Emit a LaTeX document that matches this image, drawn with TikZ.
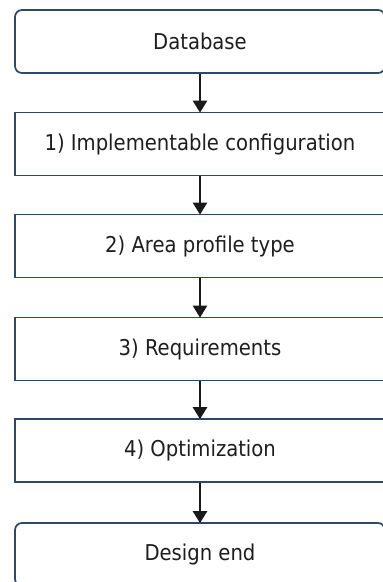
\documentclass[tikz,border=0pt]{standalone}
\usepackage{fontspec}
\setmainfont{DejaVu Sans Condensed}
\usetikzlibrary{arrows.meta}
\definecolor{boxline}{HTML}{2E4868}
\definecolor{labeltext}{HTML}{1E1E1E}
\tikzset{
  x=1pt, y=1pt,
  stepbox/.style={draw=boxline, line width=1.7pt, fill=white,
    minimum width=370pt, minimum height=63pt, inner sep=0pt,
    text=labeltext, font=\fontsize{21.8}{25}\selectfont},
  terminal/.style={stepbox, rounded corners=7pt},
  flow/.style={draw=black!90, line width=2.4pt,
    -{Triangle[width=14pt,length=12pt]}, shorten >=-1pt}
}
\begin{document}
\begin{tikzpicture}
  \useasboundingbox (0,0) rectangle (383,-582);
  \clip (0,0) rectangle (383,-582);
  \node[terminal] (db) at (200,-41.5) {Database};
  \node[stepbox]  (s1) at (200,-144)  {1) Implementable configuration};
  \node[stepbox]  (s2) at (200,-246)  {2) Area profile type};
  \node[stepbox]  (s3) at (200,-349)  {3) Requirements};
  \node[stepbox]  (s4) at (200,-450.5) {4) Optimization};
  \node[terminal] (de) at (200,-554.5) {Design end};
  \draw[flow] (db) -- (s1);
  \draw[flow] (s1) -- (s2);
  \draw[flow] (s2) -- (s3);
  \draw[flow] (s3) -- (s4);
  \draw[flow] (s4) -- (de);
\end{tikzpicture}
\end{document}
